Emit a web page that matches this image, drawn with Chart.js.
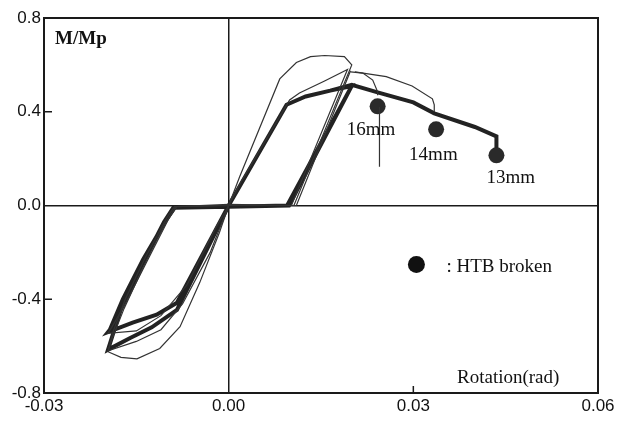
<!DOCTYPE html>
<html lang="en">
<head>
  <meta charset="UTF-8" />
  <title>M/Mp - Rotation</title>
  <script src="https://cdn.jsdelivr.net/npm/chart.js"></script>
  <style>
    html, body { margin: 0; padding: 0; background: #fff; }
    #wrap { width: 620px; height: 422px; }
  </style>
</head>
<body>
  <div id="wrap"><canvas id="chart" width="620" height="422"></canvas></div>

  <script>
    // axis ticks
    const xTicks = [-0.03, 0.00, 0.03, 0.06];
    const yTicks = [-0.8, -0.4, 0.0, 0.4, 0.8];

    // thick curve (13mm specimen), rotation / M/Mp pairs
    const thickX = [0, 0.0094, 0.0125, 0.0165, 0.0200, 0.0095, 0.0, -0.0088, -0.0101, -0.0139, -0.0172, -0.0193, -0.0196,
                    -0.0156, -0.0117, -0.0084, 0,
                    0.0094, 0.0125, 0.0165, 0.0200, 0.0098, 0.0, -0.0090, -0.0105, -0.0142, -0.0176, -0.0196,
                    -0.0160, -0.0125, -0.0084, 0,
                    0.0094, 0.0125, 0.0165, 0.0200, 0.0242, 0.0300, 0.0334, 0.0400, 0.0435, 0.0435];
    const thickY = [0, 0.43, 0.465, 0.49, 0.51, 0.0, -0.005, -0.01, -0.06, -0.23, -0.40, -0.53, -0.54,
                    -0.50, -0.466, -0.415, 0,
                    0.43, 0.465, 0.49, 0.51, 0.0, -0.005, -0.01, -0.07, -0.26, -0.45, -0.615,
                    -0.565, -0.52, -0.445, 0,
                    0.43, 0.465, 0.49, 0.515, 0.483, 0.44, 0.393, 0.335, 0.295, 0.245];

    // thin curve with the highest peak
    const thinAX = [0, 0.0018, 0.0083, 0.0110, 0.0133, 0.0156, 0.0188, 0.0200, 0.0106, 0.0, -0.0088, -0.0100, -0.0135, -0.0168,
                    -0.0188, -0.0196, -0.0175, -0.0149, -0.0112, -0.0079, -0.0047, -0.0015, 0];
    const thinAY = [0, 0.124, 0.54, 0.61, 0.635, 0.64, 0.635, 0.60, 0.0, 0.0, -0.005, -0.05, -0.22, -0.40,
                    -0.54, -0.624, -0.648, -0.654, -0.610, -0.517, -0.329, -0.115, 0];

    // thin curve with the middle peak
    const thinBX = [0, 0.0020, 0.0099, 0.0115, 0.0155, 0.0193, 0.0102, 0.0, -0.0086, -0.0098, -0.0133, -0.0166, -0.0190, -0.0196,
                    -0.0150, -0.0110, -0.0068, -0.0020, 0];
    const thinBY = [0, 0.10, 0.45, 0.48, 0.53, 0.58, 0.0, 0.0, -0.005, -0.06, -0.24, -0.41, -0.52, -0.545,
                    -0.535, -0.47, -0.34, -0.09, 0];

    // extra thin unloading / reloading branch
    const thinCX = [0.0198, 0.0110, 0.0, -0.0084, -0.0104, -0.0140, -0.0170, -0.0188, -0.0196,
                    -0.0150, -0.0110, -0.0075, -0.0030, 0];
    const thinCY = [0.575, 0.0, 0.005, -0.005, -0.08, -0.27, -0.44, -0.56, -0.62,
                    -0.58, -0.53, -0.42, -0.20, 0];

    // post-peak thin arcs (16mm and 14mm specimens)
    const arc16X = [0.0198, 0.0218, 0.0234, 0.0242, 0.0242];
    const arc16Y = [0.570, 0.565, 0.535, 0.485, 0.470];
    const arc14X = [0.0205, 0.0256, 0.0298, 0.0331, 0.0334, 0.0334];
    const arc14Y = [0.570, 0.550, 0.510, 0.455, 0.430, 0.400];

    // thin vertical mark below the 16mm point
    const mark16X = [0.0245, 0.0245];
    const mark16Y = [0.42, 0.165];

    // HTB broken points
    const brokenLabels = ['16mm', '14mm', '13mm'];
    const brokenX = [0.0242, 0.0337, 0.0435];
    const brokenY = [0.423, 0.325, 0.214];

    // legend marker
    const legendX = [0.0305];
    const legendY = [-0.252];

    const pts = (xs, ys) => xs.map((x, i) => ({ x: x, y: ys[i] }));

    const lineSet = (xs, ys, width, color) => ({
      data: pts(xs, ys),
      showLine: true,
      borderColor: color,
      borderWidth: width,
      pointRadius: 0,
      tension: 0,
      fill: false
    });

    // box, inner tick marks and the texts
    const decor = {
      id: 'decor',
      afterDatasetsDraw(chart) {
        const { ctx, chartArea: a, scales: { x, y } } = chart;
        ctx.save();
        ctx.strokeStyle = '#1a1a1a';
        ctx.lineWidth = 2;
        ctx.strokeRect(a.left, a.top, a.right - a.left, a.bottom - a.top);

        ctx.lineWidth = 1.5;
        ctx.beginPath();
        [0.4, -0.4].forEach(v => {
          ctx.moveTo(a.left, y.getPixelForValue(v));
          ctx.lineTo(a.left + 8, y.getPixelForValue(v));
        });
        ctx.moveTo(x.getPixelForValue(0.03), a.bottom);
        ctx.lineTo(x.getPixelForValue(0.03), a.bottom - 7);
        ctx.stroke();

        ctx.fillStyle = '#111';
        ctx.textBaseline = 'alphabetic';
        ctx.textAlign = 'left';
        ctx.font = 'bold 19px "Liberation Serif"';
        ctx.fillText('M/Mp', a.left + 11, a.top + 26);

        ctx.font = '19px "Liberation Serif"';
        const offs = [[-31, 29], [-27, 31], [-10, 28]];
        brokenLabels.forEach((t, i) => {
          ctx.fillText(t, x.getPixelForValue(brokenX[i]) + offs[i][0], y.getPixelForValue(brokenY[i]) + offs[i][1]);
        });

        ctx.fillText(': HTB broken', x.getPixelForValue(legendX[0]) + 30, y.getPixelForValue(legendY[0]) + 7);
        ctx.fillText('Rotation(rad)', a.right - 141, a.bottom - 10);
        ctx.restore();
      }
    };

    const zeroLine = ctx => ctx.tick && ctx.tick.value === 0 ? '#1a1a1a' : 'rgba(0,0,0,0)';

    new Chart(document.getElementById('chart'), {
      type: 'scatter',
      data: {
        datasets: [
          lineSet(thinAX, thinAY, 1.2, '#333'),
          lineSet(thinBX, thinBY, 1.2, '#333'),
          lineSet(thinCX, thinCY, 1.2, '#333'),
          lineSet(arc16X, arc16Y, 1.2, '#333'),
          lineSet(arc14X, arc14Y, 1.2, '#333'),
          lineSet(mark16X, mark16Y, 1.2, '#333'),
          lineSet(thickX, thickY, 4, '#222'),
          {
            data: pts(brokenX, brokenY),
            pointRadius: 8,
            pointBackgroundColor: '#2a2a2a',
            pointBorderWidth: 0
          },
          {
            data: pts(legendX, legendY),
            pointRadius: 8.5,
            pointBackgroundColor: '#111',
            pointBorderWidth: 0
          }
        ]
      },
      options: {
        responsive: false,
        animation: false,
        layout: { padding: { top: 18, right: 22, left: 0, bottom: 0 } },
        plugins: { legend: { display: false }, tooltip: { enabled: false } },
        scales: {
          x: {
            type: 'linear',
            min: -0.03,
            max: 0.06,
            afterBuildTicks: s => { s.ticks = xTicks.map(v => ({ value: v })); },
            afterFit: s => { s.height = 29; },
            ticks: {
              padding: 3,
              color: '#111',
              font: { family: '"Liberation Sans"', size: 17 },
              callback: v => v.toFixed(2)
            },
            grid: { drawTicks: false, color: zeroLine, lineWidth: 1.5 },
            border: { display: true, color: '#1a1a1a', width: 2 }
          },
          y: {
            type: 'linear',
            min: -0.8,
            max: 0.8,
            afterBuildTicks: s => { s.ticks = yTicks.map(v => ({ value: v })); },
            afterFit: s => { s.width = 44; },
            ticks: {
              padding: 3,
              color: '#111',
              font: { family: '"Liberation Sans"', size: 17 },
              callback: v => v.toFixed(1)
            },
            grid: { drawTicks: false, color: zeroLine, lineWidth: 1.5 },
            border: { display: true, color: '#1a1a1a', width: 2 }
          }
        }
      },
      plugins: [decor]
    });
  </script>
</body>
</html>
